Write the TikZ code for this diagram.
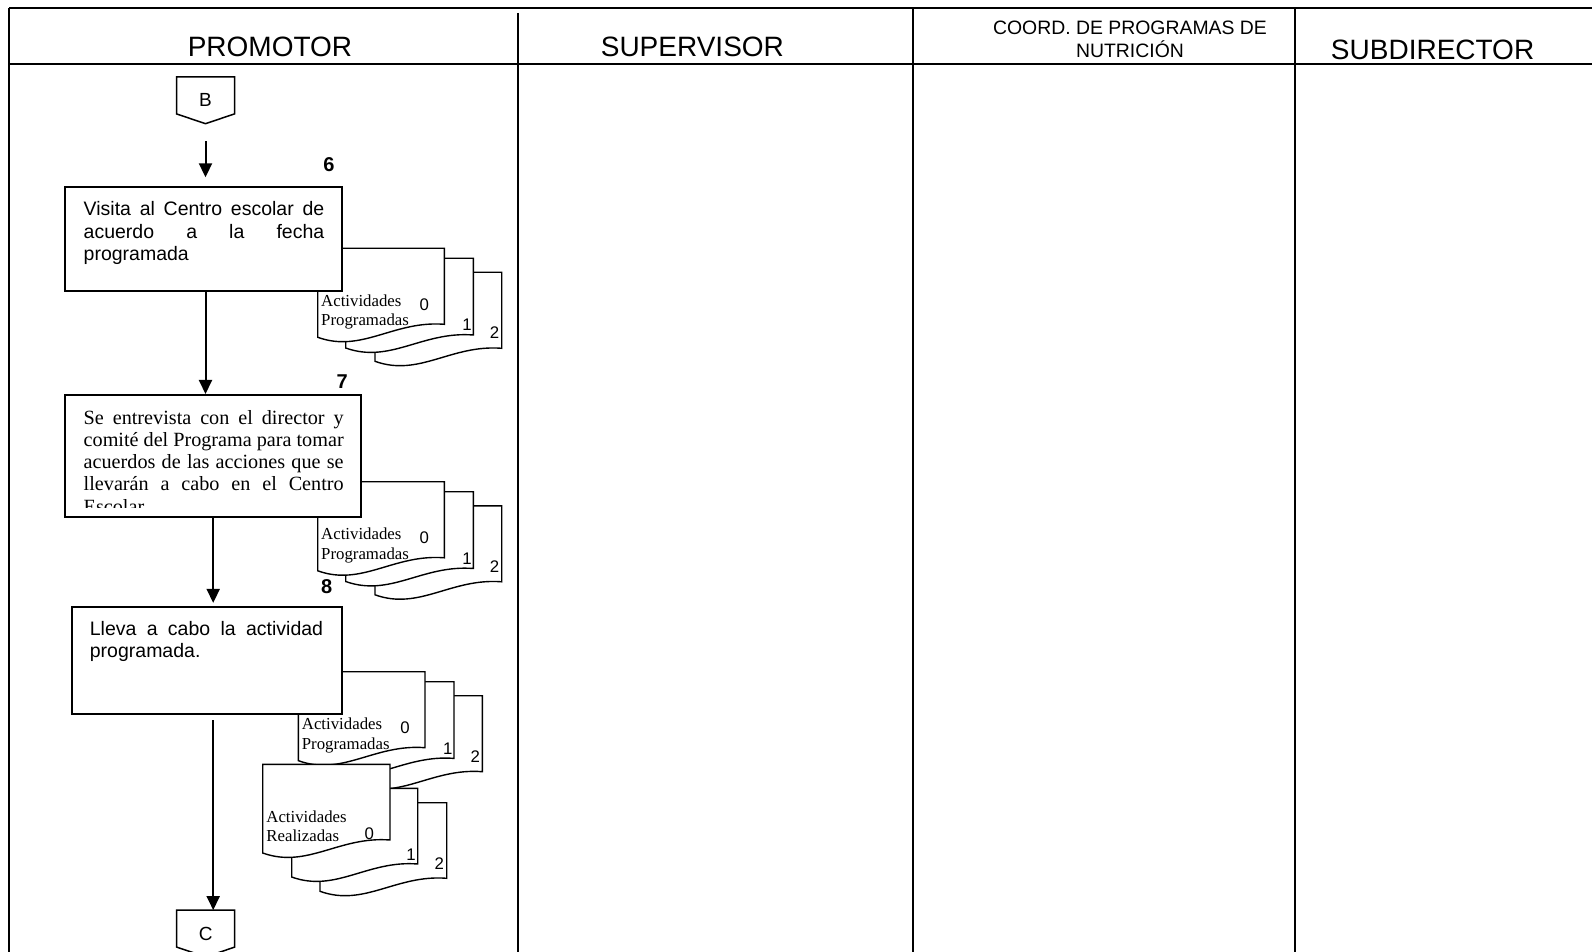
\documentclass[tikz,border=0pt]{standalone}
\usepackage{fontspec}
\setmainfont{Liberation Sans}
\newfontfamily\timesfont{Liberation Serif}
\usepackage{tikz}
\usetikzlibrary{arrows.meta}

% one sheet of a document symbol: top-left corner, width, height of the right side
\newcommand{\docpage}[4]{%
  \filldraw[docline] (#1,#2) -- ({#1+#3},#2) -- ({#1+#3},{#2+#4})
    .. controls ({#1+0.6*#3},{#2+#4-4}) and ({#1+0.35*#3},{#2+#4+29}) .. (#1,{#2+#4+13}) -- cycle;}
% three copies, back to front
\newcommand{\docstack}[2]{%
  \docpage{#1+57.3}{#2+24}{126.7}{76}%
  \docpage{#1+28}{#2+10}{127.6}{76.7}%
  \docpage{#1}{#2}{126.6}{76}}

\begin{document}
\begin{tikzpicture}[x=0.5pt,y=-0.5pt,
  lane/.style={line width=1pt},
  lanehd/.style={font=\fontsize{14}{16}\selectfont,anchor=base,inner sep=0pt},
  actbox/.style={draw,line width=1pt,fill=white,inner sep=0pt},
  acttxt/.style={anchor=base west,inner sep=0pt,align=justify,font=\fontsize{9.75}{11.15}\selectfont},
  stepno/.style={font=\fontsize{10}{12}\selectfont\bfseries,inner sep=0pt},
  docline/.style={draw,fill=white,line width=0.7pt},
  doclbl/.style={anchor=base west,inner sep=0pt,align=left,font=\timesfont\fontsize{8.4}{9.65}\selectfont},
  docno/.style={font=\fontsize{8.4}{10}\selectfont,inner sep=0pt},
  offpage/.style={minimum width=28.6pt,minimum height=23pt,inner sep=0pt,font=\fontsize{9.5}{11}\selectfont},
  flow/.style={-{Triangle[length=7pt,width=6.5pt]},line width=1pt},
]
\useasboundingbox (0,0) rectangle (1592,952);

% lanes
\draw[lane] (9.1,8.1) -- (1592,8.1);
\draw[lane] (9.1,8.1) -- (9.1,952);
\draw[lane] (9.1,64) -- (1592,64);
\draw[lane] (517.8,13) -- (517.8,952);
\draw[lane] (912.8,8.1) -- (912.8,952);
\draw[lane] (1294.5,8.1) -- (1294.5,952);

\node[lanehd] (hdProm) at (270,56.7) {PROMOTOR};
\node[lanehd] (hdSup)  at (692.4,56.7) {SUPERVISOR};
\node[lanehd,align=center,font=\fontsize{9.7}{11.6}\selectfont] (hdCoord) at (1130,57.5) {COORD. DE PROGRAMAS DE\\NUTRICIÓN};
\node[lanehd] (hdSub)  at (1432.6,59.8) {SUBDIRECTOR};

% documents (labels anchored on their last line)
\docstack{317.7}{248.3}
\node[doclbl] (doc6lbl) at (320.8,325.6) {Actividades\\Programadas};
\node[docno] (doc6a) at (424.4,304.6) {0};
\node[docno] (doc6b) at (467,325) {1};
\node[docno] (doc6c) at (494.5,333) {2};

\docstack{317.7}{481.8}
\node[doclbl] (doc7lbl) at (320.8,559.1) {Actividades\\Programadas};
\node[docno] (doc7a) at (424.4,538.1) {0};
\node[docno] (doc7b) at (467,558.5) {1};
\node[docno] (doc7c) at (494.5,566.5) {2};

\docstack{298.4}{671.7}
\node[doclbl] (doc8lbl) at (301.5,749) {Actividades\\Programadas};
\node[docno] (doc8a) at (405.1,728) {0};
\node[docno] (doc8b) at (447.7,748.4) {1};
\node[docno] (doc8c) at (475.2,756.4) {2};

\docpage{320}{802.7}{126.7}{75.6}
\docpage{291.7}{788.3}{126}{75.7}
\docpage{262.7}{764.3}{127.3}{75.7}
\node[doclbl] (docRlbl) at (266,841.7) {Actividades\\Realizadas};
\node[docno] (docRa) at (369.3,834) {0};
\node[docno] (docRb) at (411,855) {1};
\node[docno] (docRc) at (439.3,864) {2};

% activities
\node[actbox,minimum width=138.35pt,minimum height=52.15pt] (act6) at (203.35,238.85) {};
\node[acttxt,text width=120.3pt] (act6txt) at (83.3,216) {Visita al Centro escolar de\break acuerdo a la fecha\break programada};
\node[stepno] (num6) at (329,164.7) {6};

\node[actbox,minimum width=148.2pt,minimum height=60.9pt] (act7) at (213.2,455.9) {};
\begin{scope}
  \clip (65,395) rectangle (361.4,507);
  \node[acttxt,text width=130pt,font=\timesfont\fontsize{10.1}{11.15}\selectfont] (act7txt) at (83.3,424)
    {Se entrevista con el director y\break comité del Programa para tomar\break acuerdos de las acciones que se\break llevarán a cabo en el Centro\break Escolar};
\end{scope}
\node[stepno] (num7) at (342.2,381.7) {7};

\node[actbox,minimum width=135.1pt,minimum height=53.75pt] (act8) at (206.6,660.25) {};
\node[acttxt,text width=116.6pt] (act8txt) at (89.5,635) {Lleva a cabo la actividad\break programada.};
\node[stepno] (num8) at (326.7,586.7) {8};

% off-page connectors
\node[offpage] (conB) at (205.5,100.3) {B};
\draw[line width=0.75pt] (conB.north west) -- (conB.north east) -- ([yshift=4.9pt]conB.south east)
  -- (conB.south) -- ([yshift=4.9pt]conB.south west) -- cycle;
\node[offpage] (conC) at (205.7,933.5) {C};
\draw[line width=0.75pt] (conC.north west) -- (conC.north east) -- ([yshift=4.9pt]conC.south east)
  -- (conC.south) -- ([yshift=4.9pt]conC.south west) -- cycle;

% flow
\draw[flow,shorten <=8.7pt,shorten >=4.2pt] (conB.south) -- (conB.south |- act6.north);
\draw[flow] (act6.south -| conB.south) -- (act7.north -| conB.south);
\draw[flow,shorten >=1.3pt] (act7.south) -- (act7.south |- act8.north);
\draw[flow,shorten <=2.7pt] (act8.south -| act7.south) -- (conC.north -| act7.south);
\end{tikzpicture}
\end{document}
